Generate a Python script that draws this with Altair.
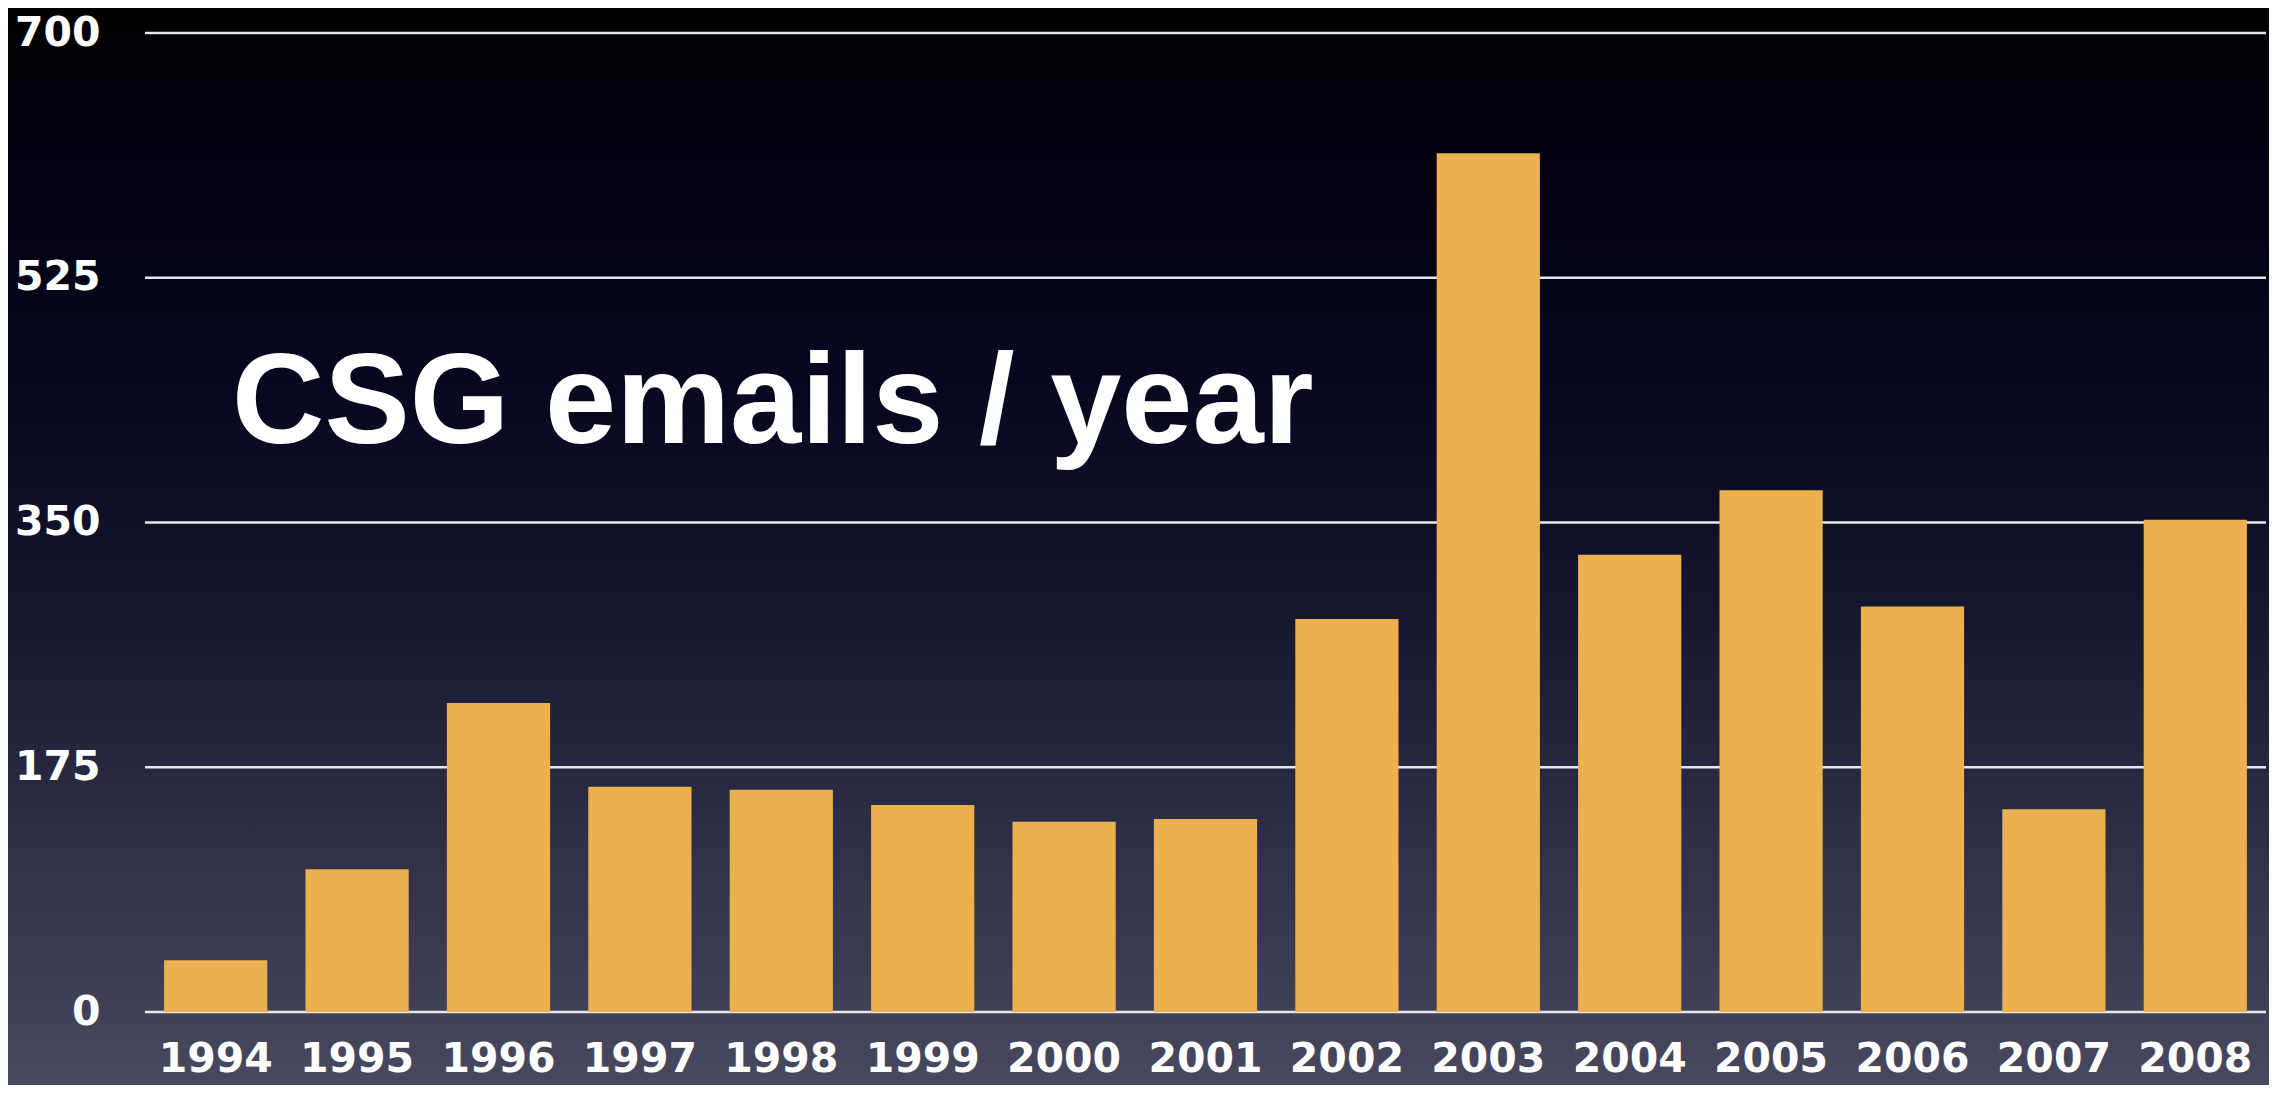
import altair as alt
import pandas as pd

years = ["1994", "1995", "1996", "1997", "1998", "1999", "2000", "2001",
         "2002", "2003", "2004", "2005", "2006", "2007", "2008"]
emails = [37, 102, 221, 161, 159, 148, 136, 138, 281, 614, 327, 373, 290, 145, 352]
ticks = [0, 175, 350, 525, 700]
title_text = ["CSG emails / year"]

W, H = 2121, 979
PL, PT, PR, PB = 137, 25, 3, 73
FONT = "Liberation Sans"
AFONT = "DejaVu Sans"

df = pd.DataFrame({"year": years, "emails": emails})
grid_df = pd.DataFrame({"emails": ticks})

yscale = alt.Scale(domain=[0, 700], nice=False)
yaxis = alt.Axis(values=ticks, grid=False, domain=False, ticks=False, title=None,
                 labelPadding=45, labelFontSize=41, labelFont=AFONT, zindex=2,
                 labelFontWeight="bold", labelColor="white")

bg = alt.Chart(pd.DataFrame({"a": [0]})).mark_rect(
    color=alt.Gradient(
        gradient="linear",
        stops=[
            alt.GradientStop(color="#010103", offset=0),
            alt.GradientStop(color="#020210", offset=0.15),
            alt.GradientStop(color="#070720", offset=0.35),
            alt.GradientStop(color="#15152e", offset=0.55),
            alt.GradientStop(color="#2c2c44", offset=0.75),
            alt.GradientStop(color="#48495f", offset=1),
        ],
        x1=0, x2=0, y1=0, y2=1,
    )
).encode(x=alt.value(-PL), x2=alt.value(W + PR), y=alt.value(-PT), y2=alt.value(H + PB))

grid = alt.Chart(grid_df).mark_rule(color="#e8e8e8", strokeWidth=2.5).encode(
    y=alt.Y("emails:Q", scale=yscale, axis=yaxis),
    x=alt.value(0), x2=alt.value(W),
)

bars = alt.Chart(df).mark_bar(color="#ECB04E").encode(
    x=alt.X("year:O", sort=years,
            scale=alt.Scale(paddingInner=0.27, paddingOuter=0.135),
            axis=alt.Axis(labelAngle=0, domain=False, ticks=False, title=None,
                          labelPadding=27, labelFontSize=41, labelFont=AFONT, zindex=2,
                          labelFontWeight="bold", labelColor="white")),
    y=alt.Y("emails:Q", scale=yscale, axis=yaxis),
)

title = alt.Chart(pd.DataFrame({"label": title_text})).mark_text(
    align="left", baseline="alphabetic", fontSize=128, fontWeight="bold",
    font=FONT, color="white"
).encode(text="label:N", x=alt.value(87), y=alt.value(410))

chart = alt.layer(bg, grid, bars, title).properties(
    width=W, height=H,
    autosize=alt.AutoSizeParams(type="none"),
    padding={"left": PL, "top": PT, "right": PR, "bottom": PB},
    background="#1b1b2e",
).configure_view(stroke=None)

chart.save("out.html", embed_options={"renderer": "svg", "actions": False})
